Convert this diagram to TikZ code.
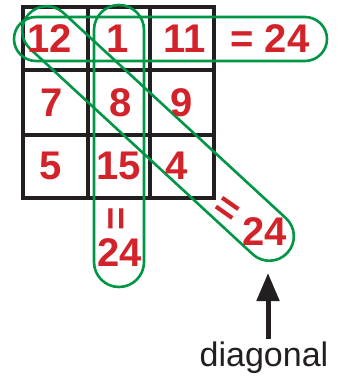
\documentclass[tikz,border=0pt]{standalone}
\usepackage{fontspec}
\setmainfont{Liberation Sans}
\usetikzlibrary{arrows.meta,positioning}
\definecolor{rojocifra}{RGB}{211,35,42}
\definecolor{verdemarca}{RGB}{0,150,70}
\definecolor{negrorejilla}{RGB}{35,31,32}
\tikzset{
  cifra/.style={
    text=rojocifra,
    font=\fontsize{40}{42}\selectfont\bfseries,
    inner sep=0pt
  },
  rejilla/.style={
    draw=negrorejilla,
    line width=4pt
  },
  marca/.style={
    draw=verdemarca,
    line width=2.6pt,
    inner sep=0pt
  },
  flecha/.style={
    -{Triangle[length=28pt,width=22pt]},
    line width=5pt,
    negrorejilla
  }
}

\begin{document}
\begin{tikzpicture}[x=1pt,y=-1pt]
\useasboundingbox (0,0) rectangle (338,379);
% rejilla 3x3
\draw[rejilla] (23,7) rectangle (214,198);
\draw[rejilla] (88,7) -- (88,198) (150,7) -- (150,198);
\draw[rejilla] (23,70) -- (214,70) (23,135) -- (214,135);
% marcas verdes
\draw[marca, rounded corners=22pt] (14,17) rectangle (327,61);
\draw[marca, rounded corners=25pt] (94,5) rectangle (144,287);
\node[marca, rounded corners=24.5pt, minimum width=352pt, minimum height=49pt, rotate=-42.7] (diagonal) at (158,133.5) {};
% cifras
\node[cifra] (c12) at (50,39) {12};
\node[cifra] (c1) at (118,39) {1};
\node[cifra] (c11) at (185,39) {11};
\node[cifra] (fila) at (270,39) {= 24};
\node[cifra] (c7) at (52,103) {7};
\node[cifra] (c8) at (121,103) {8};
\node[cifra] (c9) at (182,103) {9};
\node[cifra] (c5) at (51,166) {5};
\node[cifra] (c15) at (119,166) {15};
\node[cifra] (c4) at (177,166) {4};
\node[cifra, rotate=90] (igcol) at (119,219) {=};
\node[cifra] (col) at (120,253) {24};
\node[cifra, rotate=-35] (igdiag) at (226,211) {=};
\node[cifra] (diag) at (265,232) {24};
% etiqueta
\node[font=\fontsize{34}{36}\selectfont, text=negrorejilla, inner sep=2pt, anchor=base] (etiqueta) at (264,366) {diagonal};
\coordinate (punta) at (268,273);
\draw[flecha] (etiqueta.north -| punta) -- (punta);
\end{tikzpicture}
\end{document}
